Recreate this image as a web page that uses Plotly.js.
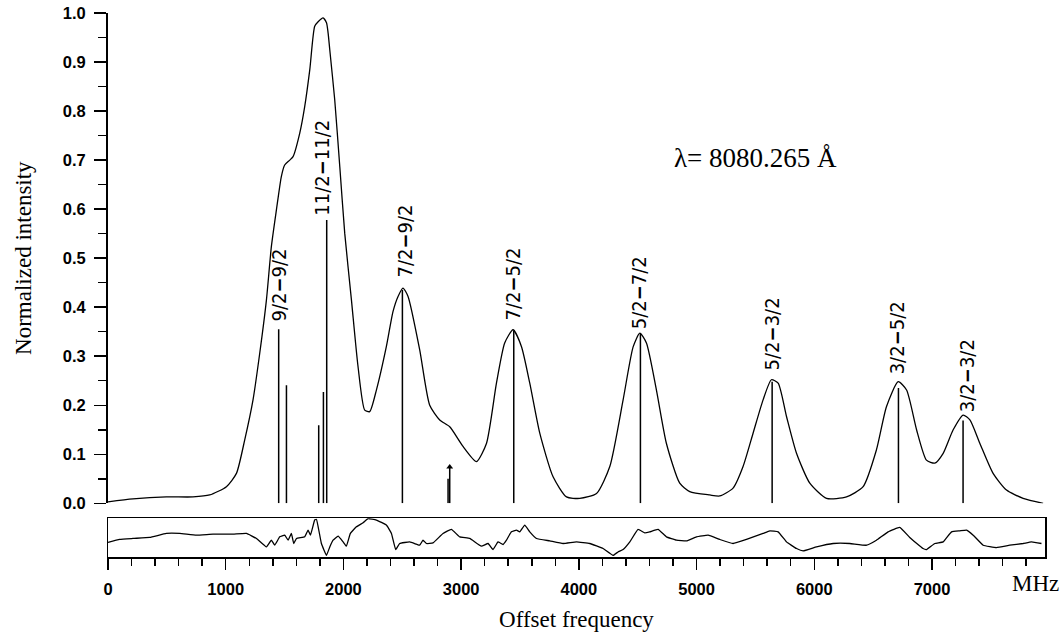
<!DOCTYPE html>
<html>
<head>
<meta charset="utf-8">
<script src="https://cdn.plot.ly/plotly-3.0.1.min.js"></script>
<style>html,body{margin:0;padding:0;background:#fff;}#chart{width:1064px;height:637px;}</style>
</head>
<body>
<div id="chart"></div>
<script>
// Measured spectrum (offset frequency in MHz, normalized intensity)
const specFreq = [0, 212, 496, 722, 864, 1006, 1091, 1161, 1232, 1289, 1346, 1388, 1431, 1473, 1501, 1544, 1572, 1629, 1671, 1714, 1756, 1785, 1827, 1856, 1870, 1884, 1926, 1969, 2011, 2068, 2124, 2181, 2223, 2280, 2365, 2421, 2464, 2506, 2549, 2648, 2733, 2818, 2903, 3016, 3130, 3215, 3300, 3370, 3441, 3512, 3583, 3668, 3781, 3895, 4008, 4150, 4263, 4376, 4461, 4518, 4574, 4659, 4744, 4857, 4942, 5112, 5197, 5310, 5395, 5480, 5565, 5636, 5693, 5764, 5849, 5962, 6104, 6274, 6415, 6528, 6613, 6713, 6784, 6869, 6953, 7024, 7095, 7180, 7265, 7322, 7407, 7519, 7633, 7774, 7944];
const specInt  = [0.003, 0.009, 0.013, 0.013, 0.017, 0.034, 0.061, 0.129, 0.211, 0.306, 0.415, 0.524, 0.599, 0.667, 0.690, 0.700, 0.707, 0.755, 0.809, 0.884, 0.973, 0.982, 0.990, 0.980, 0.959, 0.925, 0.823, 0.687, 0.551, 0.415, 0.279, 0.190, 0.187, 0.231, 0.320, 0.391, 0.422, 0.439, 0.422, 0.313, 0.200, 0.170, 0.156, 0.116, 0.085, 0.122, 0.245, 0.327, 0.354, 0.320, 0.245, 0.143, 0.054, 0.013, 0.010, 0.020, 0.075, 0.211, 0.319, 0.347, 0.327, 0.231, 0.122, 0.041, 0.024, 0.017, 0.015, 0.031, 0.075, 0.143, 0.211, 0.252, 0.245, 0.177, 0.102, 0.041, 0.010, 0.013, 0.034, 0.109, 0.197, 0.248, 0.231, 0.150, 0.088, 0.082, 0.102, 0.150, 0.180, 0.170, 0.122, 0.061, 0.027, 0.010, 0.000];

// Calculated hyperfine component positions and relative strengths
const stickFreq = [1450, 1516, 1790, 1830, 1858, 2501, 2889, 2903, 3447, 4523, 5642, 6715, 7264];
const stickInt  = [0.355, 0.241, 0.159, 0.227, 0.578, 0.435, 0.050, 0.074, 0.352, 0.347, 0.248, 0.235, 0.169];

// Marked (arrow) component
const arrowFreq = [2903];
const arrowInt  = [0.074];

// Residuals (arbitrary units)
const resFreq = [0, 99, 212, 354, 496, 609, 751, 892, 1062, 1176, 1261, 1346, 1388, 1416, 1459, 1501, 1530, 1558, 1578, 1601, 1671, 1700, 1720, 1756, 1771, 1813, 1856, 1884, 1912, 1955, 1997, 2025, 2059, 2110, 2167, 2209, 2280, 2365, 2408, 2444, 2478, 2563, 2620, 2648, 2676, 2705, 2761, 2846, 2917, 2988, 3073, 3172, 3229, 3271, 3313, 3356, 3385, 3427, 3470, 3498, 3540, 3583, 3640, 3753, 3866, 3980, 4093, 4206, 4291, 4333, 4376, 4433, 4503, 4560, 4602, 4673, 4744, 4829, 4914, 4999, 5098, 5197, 5310, 5424, 5565, 5622, 5693, 5764, 5849, 5905, 6019, 6160, 6302, 6444, 6528, 6627, 6726, 6811, 6924, 6953, 7024, 7095, 7166, 7237, 7294, 7350, 7435, 7548, 7661, 7774, 7845, 7930];
const resVal  = [-4.8, -1.8, -0.8, 0.2, 4.2, 4.2, 2.5, 3.5, 3.5, 4.2, -0.8, -9.2, -2.5, -7.5, 0.8, 2.5, -2.5, 4.2, -5.8, -0.8, 0.8, 7.5, 2.5, 17.5, 18.2, -5.8, -17.5, -9.2, -2.5, 1.5, -4.2, -8.5, 4.2, 10.8, 14.8, 19.0, 17.5, 12.5, 4.2, -11.8, -5.8, -4.2, -6.5, -7.5, -2.5, -5.8, -5.2, 4.2, 8.2, 0.8, -0.8, -8.5, -5.8, -11.8, -4.2, -6.8, -2.5, 5.8, 7.5, 5.8, 12.5, 5.8, -0.8, -3.2, -5.8, -4.2, -5.8, -10.8, -17.5, -14.2, -11.8, -4.2, 8.2, 4.8, 5.8, 8.2, 0.8, -2.5, -3.2, 0.8, 2.5, -1.8, -5.8, -1.8, 4.2, 6.8, 5.8, -4.2, -10.8, -13.2, -9.2, -5.8, -5.8, -7.5, -2.5, 5.8, 10.2, 0.2, -10.8, -11.8, -5.8, -4.2, 5.8, 6.8, 7.5, 2.5, -7.5, -9.8, -7.5, -5.8, -4.2, -5.8];

// Component labels
const compLabels = ["9/2<b>−</b>9/2", "11/2<b>−</b>11/2", "7/2<b>−</b>9/2", "7/2<b>−</b>5/2", "5/2<b>−</b>7/2", "5/2<b>−</b>3/2", "3/2<b>−</b>5/2", "3/2<b>−</b>3/2"];
const compLabelFreq = [1450, 1820, 2519, 3439, 4518, 5643, 6705, 7300];
const compLabelInt  = [0.4455, 0.685, 0.535, 0.448, 0.430, 0.345, 0.337, 0.260];

const xTickVals = [0, 1000, 2000, 3000, 4000, 5000, 6000, 7000];
const xTickText = ["0", "1000", "2000", "3000", "4000", "5000", "6000", "7000"];

const stickX = [], stickY = [];
stickFreq.forEach((f, i) => { stickX.push(f, f, null); stickY.push(0, stickInt[i], null); });

const serif = "Liberation Serif, Times New Roman, serif";
const sans = "Liberation Sans, Arial, sans-serif";
const narrow = "Liberation Sans Narrow, DejaVu Sans Condensed, Arial Narrow, sans-serif";

const traces = [
  {x: specFreq, y: specInt, xaxis: 'x', yaxis: 'y', mode: 'lines', line: {color: '#000', width: 1.3, shape: 'spline', smoothing: 0.6}, hoverinfo: 'skip'},
  {x: stickX, y: stickY, xaxis: 'x', yaxis: 'y', mode: 'lines', line: {color: '#000', width: 1.5}, hoverinfo: 'skip'},
  {x: arrowFreq, y: arrowInt, xaxis: 'x', yaxis: 'y', mode: 'markers', marker: {symbol: 'triangle-up', size: 6, color: '#000'}, hoverinfo: 'skip'},
  {x: resFreq, y: resVal, xaxis: 'x', yaxis: 'y2', mode: 'lines', line: {color: '#000', width: 1.3, shape: 'spline', smoothing: 0.3}, hoverinfo: 'skip'}
];

const annotations = compLabels.map((t, i) => ({
  text: t, x: compLabelFreq[i], y: compLabelInt[i], xref: 'x', yref: 'y',
  textangle: -90, showarrow: false, font: {family: narrow, size: 20, color: '#000'}
}));
annotations.push({text: 'λ= 8080.265 Å', xref: 'paper', yref: 'paper', x: 0.691, y: 0.733,
  xanchor: 'center', yanchor: 'middle', showarrow: false, font: {family: serif, size: 27, color: '#000'}});
annotations.push({text: 'MHz', xref: 'paper', yref: 'paper', x: 0.990, y: -0.049,
  xanchor: 'center', yanchor: 'middle', showarrow: false, font: {family: serif, size: 23, color: '#000'}});

const layout = {
  width: 1064, height: 637,
  margin: {l: 108, r: 19, t: 13, b: 80, pad: 0},
  paper_bgcolor: '#fff', plot_bgcolor: 'rgba(0,0,0,0)',
  showlegend: false,
  font: {family: sans, color: '#000'},
  xaxis: {
    range: [0, 7960], anchor: 'y2', showline: true, linewidth: 1.5, linecolor: '#000', mirror: true,
    ticks: 'outside', ticklen: 11, tickwidth: 1.5, tickcolor: '#000',
    tickvals: xTickVals, ticktext: xTickText, tickfont: {family: sans, size: 16.5, color: '#000', weight: 'bold'},
    ticklabelstandoff: 6,
    minor: {dtick: 200, ticks: 'outside', ticklen: 7, tickwidth: 1.5, tickcolor: '#000', showgrid: false},
    showgrid: false, zeroline: false,
    title: {text: 'Offset frequency', font: {family: serif, size: 23, color: '#000'}, standoff: 13}
  },
  yaxis: {
    domain: [0.0987, 1], range: [0, 1], anchor: 'x', showline: true, linewidth: 2, linecolor: '#000',
    ticks: 'outside', ticklen: 12, tickwidth: 1.5, tickcolor: '#000', dtick: 0.1, tickformat: '.1f',
    tickfont: {family: sans, size: 16.5, color: '#000', weight: 'bold'}, ticklabelstandoff: 5,
    minor: {dtick: 0.05, ticks: 'outside', ticklen: 8, tickwidth: 1.5, tickcolor: '#000', showgrid: false},
    showgrid: false, zeroline: false,
    title: {text: 'Normalized intensity', font: {family: serif, size: 23, color: '#000'}, standoff: 25}
  },
  yaxis2: {
    domain: [0, 0.0711], range: [-19.2, 19.2], anchor: 'x', showline: true, linewidth: 1.5, linecolor: '#000', mirror: true,
    ticks: '', showticklabels: false, showgrid: false, zeroline: false
  },
  annotations: annotations
};

Plotly.newPlot('chart', traces, layout, {staticPlot: true, displayModeBar: false});
</script>
</body>
</html>
